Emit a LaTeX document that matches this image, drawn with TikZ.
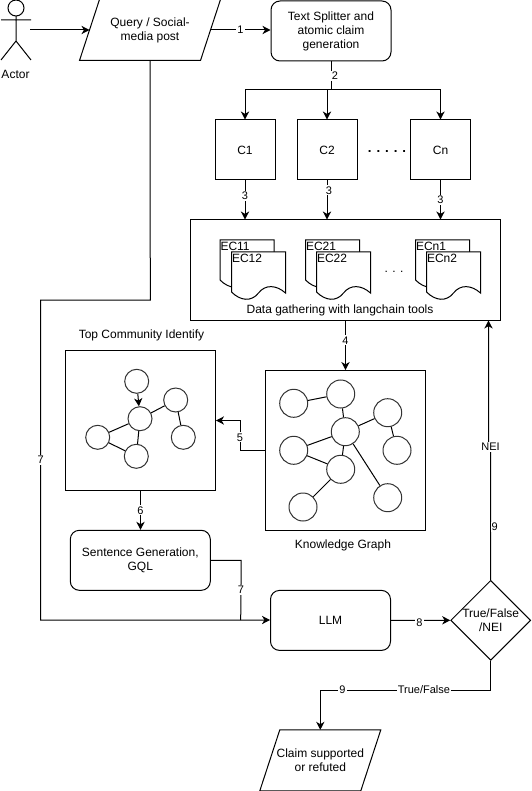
\documentclass[tikz,border=0pt]{standalone}
\usepackage{fontspec}
\setmainfont{Liberation Sans}
\usetikzlibrary{arrows.meta, positioning, calc, shapes.geometric}
\tikzset{
  boxnode/.style={draw, minimum width=#1*0.75pt, minimum height=60*0.75pt, align=center, inner sep=0pt},
  roundbox/.style={boxnode=#1, rounded corners=6.75pt},
  slantbox/.style={minimum width=#1*0.75pt, minimum height=60*0.75pt, align=center, inner sep=0pt},
  framenode/.style={draw, inner sep=0pt},
  graphnode/.style={draw=black!80, circle, inner sep=0pt, minimum size=#1*0.75pt},
  edgelabel/.style={fill=white, inner sep=0.8pt, font=\fontsize{8.25}{10}\selectfont},
  conn/.style={-{Stealth[length=6pt, width=6.2pt, inset=1.8pt]}},
  ecdoc/.pic={
    \draw[fill=white] (0,0) -- (54,0) -- (54,41)
      .. controls (45,33) and (34,32) .. (27,41)
      .. controls (20,50) and (9,49) .. (0,40) -- cycle;}
}
\begin{document}
\begin{tikzpicture}[x=0.75pt, y=-0.75pt, line width=0.75pt, font=\fontsize{9}{10.5}\selectfont]
  \useasboundingbox (0,0) rectangle (531,791);

  % actor
  \draw (16,8) circle (8);
  \draw (16,16) -- (16,41) (1,20) -- (31,20) (1,60) -- (16,41) -- (31,60);
  \node (actor) at (15.5,74) {Actor};
  \coordinate (actorhand) at (30,30);

  \node[slantbox=120] (query) at (150,30) {Query / Social-\\media post};
  \node[roundbox=120] (splitter) at (331,31) {Text Splitter and\\atomic claim\\generation};
  \foreach \name/\lab/\col in {cone/C1/245, ctwo/C2/327, cn/Cn/440.5}{%
    \node[boxnode=60] (\name) at (\col,150) {\lab};}
  \node[font=\bfseries] (cdots) at (387,152) {. . . . .};

  \node[framenode, minimum width=310*0.75pt, minimum height=100*0.75pt] (gather) at (345.5,270) {};
  \foreach \xa/\xb/\laba/\labb in {220/231.5/EC11/EC12, 305.5/316.5/EC21/EC22, 415.5/426.5/ECn1/ECn2}{%
    \pic at (\xa,240) {ecdoc};
    \node[anchor=west, inner sep=0pt] at (\xa,246) {\laba};
    \pic at (\xb,252) {ecdoc};
    \node[anchor=west, inner sep=0pt] at (\xb,258) {\labb};}
  \node (edots) at (394,272) {. . .};
  \node (gathertext) at (340,310.5) {Data gathering with langchain tools};

  % knowledge graph
  \node[framenode, minimum width=160*0.75pt, minimum height=160*0.75pt] (kg) at (345.5,450.5) {};
  \node (kgtext) at (343,545.5) {Knowledge Graph};
  \foreach \name/\x/\y in {ka/293.7/403.3, kb/340.7/394, kc/345.3/431.7, kd/387.7/412.7, ke/293.7/450.3,
      kf/397/450.3, kg/340.7/469.3, kh/303/507, ki/387.7/497.7}{%
    \node[graphnode=28] (\name n) at (\x,\y) {};}
  \foreach \a/\b in {ka/kb, kb/kc, kc/kd, kd/kf, kc/ke, ke/kg, kc/kg, kg/kh, kc/ki}{%
    \draw (\a n) -- (\b n);}

  % community
  \node[framenode, minimum width=150*0.75pt, minimum height=140*0.75pt] (top) at (140.5,420.5) {};
  \node (toptext) at (141.5,335.5) {Top Community Identify};
  \foreach \name/\x/\y in {ta/136.7/381.3, tb/140/418.7, tc/175.7/400, td/97.7/437.3, te/183.3/437.3, tf/136.3/456.3}{%
    \node[graphnode=24] (\name) at (\x,\y) {};}
  \foreach \a/\b in {tb/tc, tc/te, tb/td, td/tf, tb/tf}{%
    \draw (\a) -- (\b);}
  \draw[conn] (ta) -- (tb);

  \node[roundbox=140] (sentence) at (140.3,560.3) {Sentence Generation,\\GQL};
  \node[roundbox=120] (llm) at (330.5,620.4) {LLM};
  \node[draw, diamond, minimum width=80*0.75pt, minimum height=80*0.75pt, inner sep=0pt, align=center, aspect=1] (verdict) at (490.7,620.3) {True/False\\/NEI};
  \node[slantbox=100] (claim) at (320.3,760.3) {Claim supported\\or refuted};
  \foreach \name in {query, claim}{%
    \draw ($(\name.north west)+(10,0)$) -- ($(\name.north east)+(10,0)$)
      -- ($(\name.south east)+(-10,0)$) -- ($(\name.south west)+(-10,0)$) -- cycle;}

  \draw[conn] (actorhand) -- (query.west);
  \draw[conn] (query.east) -- node[edgelabel] {1} (splitter.west |- query.east);
  \draw (splitter.south) -- node[edgelabel, pos=0.5, xshift=3pt] {2} (331,90) coordinate (fork);
  \draw[conn] (fork) -| (cone.north);
  \draw[conn] (fork) -| (ctwo.north);
  \draw[conn] (fork) -| (cn.north);
  \draw[conn] (cone.south) -- node[edgelabel, pos=0.4] {3} (cone.south |- gather.north);
  \draw[conn] (ctwo.south) -- node[edgelabel, pos=0.25, xshift=1.5pt] {3} (ctwo.south |- gather.north);
  \draw[conn] (cn.south) -- node[edgelabel, pos=0.5] {3} (cn.south |- gather.north);
  \draw[conn] (gather.south) -- node[edgelabel, pos=0.4] {4} (kg.north);
  \draw[conn] (kg.west) -- ++(-25,0) |- node[edgelabel, pos=0.22] {5} (top.east);
  \draw[conn] (top.south) -- node[edgelabel] {6} (top.south |- sentence.north);
  \draw (sentence.east) -- ++(30.4,0) -- node[edgelabel] {7} (240.7,620);
  \draw[conn] (query.south) -- (150.3,300) -- (40.7,300)
    -- node[edgelabel, pos=0.5] {7} (40.7,620) -- (llm.west |- 40.7,620);
  \draw[conn] (llm.east) -- node[edgelabel, pos=0.48, yshift=-2pt] {8} (verdict.west);
  \draw[conn] (verdict.north) -- node[edgelabel, pos=0.4, xshift=3pt] {9} (490.5,447) -- (488.5,447)
    node[edgelabel, xshift=1.5pt] {NEI} -- (gather.south -| 488.5,447);
  \draw[conn] (verdict.south) |- node[edgelabel, pos=0.696] {True/False} node[edgelabel, pos=0.935] {9} (320.3,690) -- (claim.north);
\end{tikzpicture}
\end{document}
